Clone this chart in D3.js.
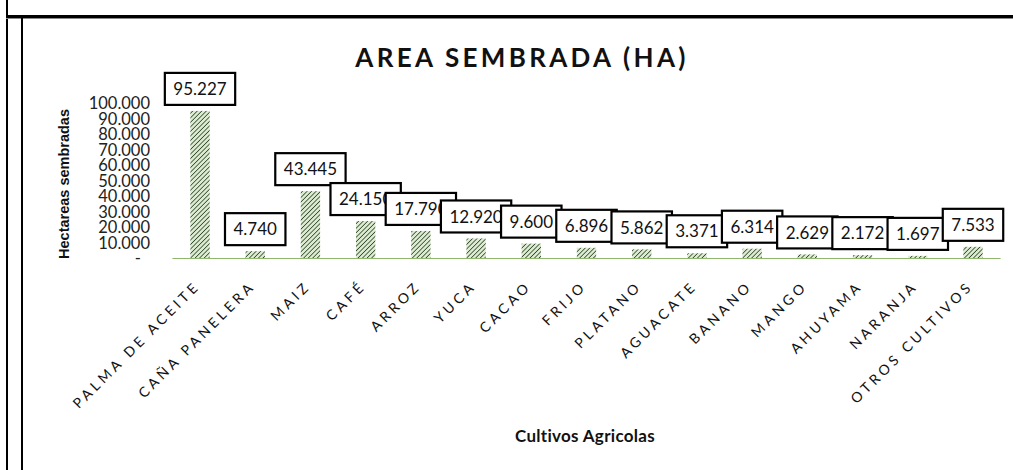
<!DOCTYPE html>
<html>
<head>
<meta charset="utf-8">
<script src="https://cdn.jsdelivr.net/npm/d3@7"></script>
<style>
  html, body { margin: 0; padding: 0; background: #fff; }
  svg { display: block; }
</style>
</head>
<body>
<div id="chart"></div>
<script>
// data (hidden last digits guessed as 0)
const cultivos = ["PALMA DE ACEITE", "CAÑA PANELERA", "MAIZ", "CAFÉ", "ARROZ", "YUCA", "CACAO",
  "FRIJO", "PLATANO", "AGUACATE", "BANANO", "MANGO", "AHUYAMA", "NARANJA", "OTROS CULTIVOS"];
const hectareas = [95227, 4740, 43445, 24150, 17790, 12920, 9600, 6896, 5862, 3371, 6314, 2629, 2172, 1697, 7533];
const yTicks = [0, 10000, 20000, 30000, 40000, 50000, 60000, 70000, 80000, 90000, 100000];

const width = 1013, height = 470;
const font = "Lato, 'Open Sans', sans-serif";

const svg = d3.select("#chart").append("svg")
  .attr("width", width)
  .attr("height", height)
  .style("font-family", font);

// hatch fill for the bars
const pat = svg.append("defs").append("pattern")
  .attr("id", "hatch")
  .attr("patternUnits", "userSpaceOnUse")
  .attr("width", 3.2).attr("height", 3.2)
  .attr("patternTransform", "rotate(45)");
pat.append("rect").attr("width", 3.2).attr("height", 3.2).attr("fill", "#dcebd2");
pat.append("line").attr("x1", 0).attr("y1", 0).attr("x2", 0).attr("y2", 3.2)
  .attr("stroke", "#25401f").attr("stroke-width", 1.5);

// page frame lines
svg.append("rect").attr("x", 6).attr("y", 0).attr("width", 2).attr("height", height).attr("fill", "#000");
svg.append("rect").attr("x", 6).attr("y", 15).attr("width", width).attr("height", 3).attr("fill", "#000");
svg.append("rect").attr("x", 6).attr("y", 18).attr("width", width).attr("height", 1).attr("fill", "#888");
svg.append("rect").attr("x", 21).attr("y", 18).attr("width", 2).attr("height", height).attr("fill", "#000");

// scales
const x = d3.scaleBand()
  .domain(cultivos)
  .range([172.4, 1000.6])
  .paddingInner(0.65)
  .paddingOuter(0.325);

const y = d3.scaleLinear()
  .domain([0, 100000])
  .range([258.5, 103.5]);

const fmt = (v) => d3.format(",")(v).replace(/,/g, ".");

// title
svg.append("text")
  .attr("x", 522)
  .attr("y", 67)
  .attr("text-anchor", "middle")
  .style("font-size", "26px")
  .style("font-weight", "bold")
  .style("letter-spacing", "3.3px")
  .attr("fill", "#111")
  .text("AREA SEMBRADA (HA)");

// y axis
const yAxis = svg.append("g")
  .attr("transform", "translate(150,0)")
  .call(d3.axisLeft(y).tickValues(yTicks).tickSize(0).tickPadding(0)
    .tickFormat((v) => (v === 0 ? "-" : fmt(v))));
yAxis.select(".domain").remove();
yAxis.selectAll("text")
  .style("font-family", font)
  .style("font-size", "16.5px")
  .attr("fill", "#222")
  .attr("x", (d) => (d === 0 ? -9 : 0));

svg.append("text")
  .attr("transform", "translate(64,184) rotate(-90)")
  .attr("text-anchor", "middle")
  .attr("dy", "0.35em")
  .style("font-family", "'Liberation Sans', Arial, sans-serif")
  .style("font-size", "14.5px")
  .style("font-weight", "bold")
  .attr("fill", "#111")
  .text("Hectareas sembradas");

// bars
svg.append("g").selectAll("rect")
  .data(cultivos)
  .join("rect")
  .attr("x", (d) => x(d))
  .attr("width", x.bandwidth())
  .attr("y", (d, i) => y(hectareas[i]))
  .attr("height", (d, i) => y(0) - y(hectareas[i]))
  .attr("fill", "url(#hatch)");

// base line
svg.append("line")
  .attr("x1", x.range()[0]).attr("x2", x.range()[1])
  .attr("y1", y(0)).attr("y2", y(0))
  .attr("stroke", "#8fb86e").attr("stroke-width", 1.2);

// category labels
svg.append("g").selectAll("text")
  .data(cultivos)
  .join("text")
  .attr("transform", (d) => `translate(${x(d) + x.bandwidth() / 2 + 1},287) rotate(-45)`)
  .attr("text-anchor", "end")
  .style("font-size", "14px")
  .style("letter-spacing", "3.6px")
  .attr("fill", "#111")
  .text((d) => d);

svg.append("text")
  .attr("x", 585)
  .attr("y", 442)
  .attr("text-anchor", "middle")
  .style("font-size", "17px")
  .style("font-weight", "bold")
  .style("letter-spacing", "0.3px")
  .attr("fill", "#111")
  .text("Cultivos Agricolas");

// value labels, each box drawn over the previous one
const boxH = 32, padX = 8.5;
cultivos.forEach((c, i) => {
  const cx = x(c) + x.bandwidth() / 2;
  const bottom = y(hectareas[i]) - 6;
  const g = svg.append("g");
  const rect = g.append("rect")
    .attr("y", bottom - boxH)
    .attr("height", boxH)
    .attr("fill", "#fff")
    .attr("stroke", "#000")
    .attr("stroke-width", 2.2);
  const t = g.append("text")
    .attr("x", cx)
    .attr("y", bottom - boxH / 2)
    .attr("dy", "0.36em")
    .attr("text-anchor", "middle")
    .style("font-size", "17px")
    .attr("fill", "#111")
    .text(fmt(hectareas[i]));
  const w = t.node().getComputedTextLength() + padX * 2;
  rect.attr("x", cx - w / 2).attr("width", w);
});
</script>
</body>
</html>
